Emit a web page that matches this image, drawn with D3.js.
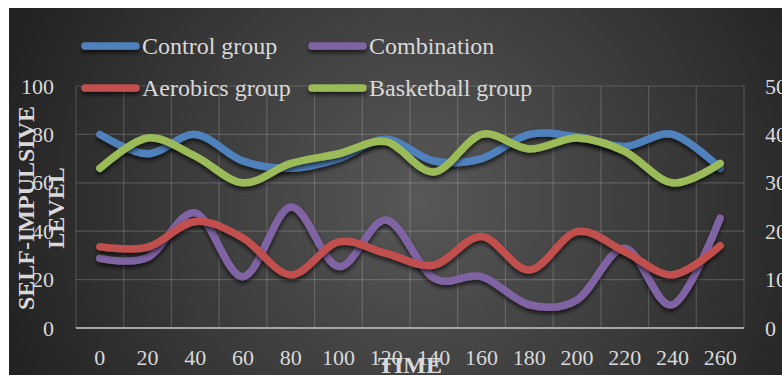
<!DOCTYPE html>
<html>
<head>
<meta charset="utf-8">
<script src="https://cdn.jsdelivr.net/npm/d3@7"></script>
<style>
html,body{margin:0;padding:0;background:#fff;}
svg{display:block;}
</style>
</head>
<body>
<script>
const categories = [0,20,40,60,80,100,120,140,160,180,200,220,240,260];
const controlGroup = [80,72,80,69,66,70,78,69,70,80,79,75,80,66];
const basketballGroup = [66,78.5,71,60,68,72,77,64.5,80,74,78.5,73,60,68];
const combination = [14.4,14.6,23.8,10.6,25,12.7,22.3,10.3,10.6,4.8,5.8,16.5,4.8,22.7];
const aerobicsGroup = [16.8,16.7,22,18.6,11,17.8,15.4,13,18.9,12,19.9,15.8,11,17];
const leftTicks = [0,20,40,60,80,100];
const rightTicks = [0,10,20,30,40,50];

const W = 782, H = 375;
const font = '"Liberation Serif","Times New Roman",serif';
const textColor = '#d9d9d9';

const svg = d3.select('body').append('svg').attr('width', W).attr('height', H);
const defs = svg.append('defs');
const rg = defs.append('radialGradient').attr('id','bg')
  .attr('gradientUnits','userSpaceOnUse').attr('cx',420).attr('cy',200).attr('r',430);
rg.append('stop').attr('offset','0%').attr('stop-color','#585858');
rg.append('stop').attr('offset','100%').attr('stop-color','#232323');
const f = defs.append('filter').attr('id','sh').attr('filterUnits','userSpaceOnUse')
  .attr('x',0).attr('y',0).attr('width',W).attr('height',H);
f.append('feDropShadow').attr('dx',0).attr('dy',3).attr('stdDeviation',2.2)
  .attr('flood-color','#000').attr('flood-opacity',0.65);

svg.append('rect').attr('x',9).attr('y',8).attr('width',W-9).attr('height',H-8).attr('fill','url(#bg)');

const x = d3.scaleBand().domain(categories).range([76,744]);
const yL = d3.scaleLinear().domain([0,100]).range([328,86]);
const yR = d3.scaleLinear().domain([0,50]).range([328,86]);
const bw = x.bandwidth();
const px = c => x(c) + bw/2;

// gridlines
const grid = svg.append('g');
grid.selectAll('line.h').data(leftTicks.filter(d=>d>0)).join('line')
  .attr('x1',76).attr('x2',744).attr('y1',d=>yL(d)).attr('y2',d=>yL(d))
  .attr('stroke','rgba(255,255,255,0.17)').attr('stroke-width',1.2);
grid.selectAll('line.v').data(d3.range(categories.length+1)).join('line')
  .attr('x1',i=>76+i*bw).attr('x2',i=>76+i*bw).attr('y1',yL(100)).attr('y2',yL(0))
  .attr('stroke','rgba(255,255,255,0.17)').attr('stroke-width',1.2);
svg.append('line').attr('x1',76).attr('x2',744).attr('y1',yL(0)).attr('y2',yL(0))
  .attr('stroke','#a6a6a6').attr('stroke-width',2);

// axes
function styleAxis(g){
  g.select('.domain').remove();
  g.selectAll('text').attr('fill',textColor).style('font-family',font).style('font-size','22px');
}
svg.append('g').attr('transform','translate(76,0)')
  .call(d3.axisLeft(yL).tickValues(leftTicks).tickSize(0).tickPadding(22))
  .call(styleAxis);
svg.append('g').attr('transform','translate(744,0)')
  .call(d3.axisRight(yR).tickValues(rightTicks).tickSize(0).tickPadding(21))
  .call(styleAxis);
svg.append('g').attr('transform','translate(0,328)')
  .call(d3.axisBottom(x).tickSize(0).tickPadding(21))
  .call(styleAxis);

// series
const series = [
  {name:'Control group', vals:controlGroup, y:yL, color:'#4f81bd'},
  {name:'Combination', vals:combination, y:yR, color:'#8064a2'},
  {name:'Aerobics group', vals:aerobicsGroup, y:yR, color:'#c0504d'},
  {name:'Basketball group', vals:basketballGroup, y:yL, color:'#9bbb59'}
];
series.forEach(s=>{
  const line = d3.line().x((d,i)=>px(categories[i])).y(d=>s.y(d)).curve(d3.curveCardinal.tension(0));
  svg.append('path').attr('d',line(s.vals)).attr('fill','none')
    .attr('stroke',s.color).attr('stroke-width',7.5).attr('stroke-linecap','round')
    .attr('stroke-linejoin','round').attr('filter','url(#sh)');
});

// legend
const legendPos = [
  {x:82, y:46},{x:309,y:46},{x:82,y:88},{x:309,y:88}
];
series.forEach((s,i)=>{
  const p = legendPos[i];
  svg.append('line').attr('x1',p.x+3).attr('x2',p.x+54).attr('y1',p.y).attr('y2',p.y)
    .attr('stroke',s.color).attr('stroke-width',7.5).attr('stroke-linecap','round')
    .attr('filter','url(#sh)');
  svg.append('text').attr('x',p.x+60).attr('y',p.y+8).text(s.name)
    .attr('fill',textColor).style('font-family',font).style('font-size','24px');
});

// axis titles
const yt = svg.append('text').attr('transform','translate(34,208) rotate(-90)')
  .attr('text-anchor','middle').attr('fill',textColor)
  .style('font-family',font).style('font-size','24px').style('font-weight','bold');
yt.append('tspan').attr('x',0).attr('dy',0).text('SELF-IMPULSIVE');
yt.append('tspan').attr('x',0).attr('dy',30).text('LEVEL');
svg.append('text').attr('x',410).attr('y',373).attr('text-anchor','middle').text('TIME')
  .attr('fill',textColor).style('font-family',font).style('font-size','24px').style('font-weight','bold');
</script>
</body>
</html>
